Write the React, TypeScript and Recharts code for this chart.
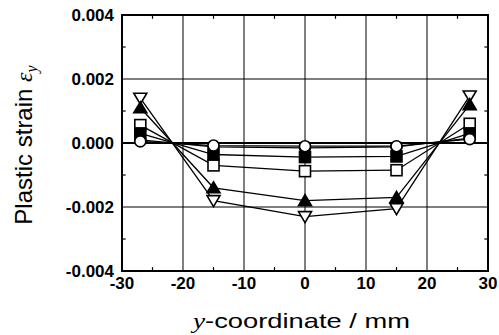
import { LineChart, Line, XAxis, YAxis, CartesianGrid, ReferenceLine, ReferenceArea, Label } from "recharts";

const positions = [-27, -15, 0, 15, 27];
const openCircle = [0.00005, -0.00008, -0.0001, -0.0001, 0.00012];
const filledCircle = [0.0001, -0.00012, -0.00015, -0.00012, 0.00015];
const filledSquare = [0.0003, -0.00036, -0.00044, -0.00042, 0.0003];
const openSquare = [0.00056, -0.0007, -0.00088, -0.00085, 0.0006];
const filledTriangle = [0.0011, -0.0014, -0.0018, -0.0017, 0.0012];
const openTriangle = [0.0014, -0.0018, -0.0023, -0.00205, 0.00147];

const xTicks = [-30, -20, -10, 0, 10, 20, 30];
const yTicks = [-0.004, -0.002, 0, 0.002, 0.004];
const xMinor = [-25, -15, -5, 5, 15, 25];
const yMinor = [-0.003, -0.001, 0.001, 0.003];

const data = positions.map((x, i) => ({
  x,
  oc: openCircle[i],
  fc: filledCircle[i],
  fs: filledSquare[i],
  os: openSquare[i],
  ft: filledTriangle[i],
  ot: openTriangle[i],
}));

type Kind = "oc" | "fc" | "fs" | "os" | "ft" | "ot";

function Mark({ cx, cy, kind }: { cx: number; cy: number; kind: Kind }) {
  const filled = kind === "fc" || kind === "fs" || kind === "ft";
  const fill = filled ? "#000" : "#fff";
  const s = 5.5;
  if (kind === "oc" || kind === "fc")
    return <circle cx={cx} cy={cy} r={5.5} fill={fill} stroke="#000" strokeWidth={1.6} />;
  if (kind === "fs" || kind === "os")
    return <rect x={cx - s} y={cy - s} width={2 * s} height={2 * s} fill={fill} stroke="#000" strokeWidth={1.6} />;
  if (kind === "ft")
    return <polygon points={`${cx},${cy - 6} ${cx - 6.5},${cy + 5} ${cx + 6.5},${cy + 5}`} fill={fill} stroke="#000" strokeWidth={1.6} />;
  return <polygon points={`${cx},${cy + 6} ${cx - 6.5},${cy - 5} ${cx + 6.5},${cy - 5}`} fill={fill} stroke="#000" strokeWidth={1.6} />;
}

const order: Kind[] = ["ot", "ft", "os", "fs", "fc", "oc"];
const font = "'Liberation Sans', Arial, Helvetica, sans-serif";
const serif = "'Liberation Serif', 'Times New Roman', serif";

export default function App() {
  return (
    <div style={{ position: "fixed", left: 0, top: 0, width: 499, height: 335, background: "#fff" }}>
      <LineChart width={499} height={335} data={data} margin={{ top: 15, right: 11, left: 0, bottom: 0 }}>
        <CartesianGrid
          stroke="#000"
          strokeWidth={1}
          verticalValues={[-20, -10, 0, 10, 20]}
          horizontalValues={[-0.002, 0.002]}
        />
        <ReferenceLine y={0} stroke="#000" strokeWidth={2} />
        {yMinor.map((v) => (
          <ReferenceLine key={"yl" + v} segment={[{ x: -30, y: v }, { x: -29.4, y: v }]} stroke="#000" strokeWidth={1.2} />
        ))}
        {yMinor.map((v) => (
          <ReferenceLine key={"yr" + v} segment={[{ x: 29.4, y: v }, { x: 30, y: v }]} stroke="#000" strokeWidth={1.2} />
        ))}
        {xMinor.map((v) => (
          <ReferenceLine key={"xb" + v} segment={[{ x: v, y: -0.004 }, { x: v, y: -0.00388 }]} stroke="#000" strokeWidth={1.2} />
        ))}
        {xMinor.map((v) => (
          <ReferenceLine key={"xt" + v} segment={[{ x: v, y: 0.004 }, { x: v, y: 0.00388 }]} stroke="#000" strokeWidth={1.2} />
        ))}
        <XAxis
          dataKey="x"
          type="number"
          domain={[-30, 30]}
          ticks={xTicks}
          allowDataOverflow
          axisLine={false}
          tickLine={false}
          tickMargin={0}
          height={64}
          tick={{ fill: "#000", fontSize: 17, fontWeight: "bold", fontFamily: font }}
        >
          <Label
            content={() => (
              <text
                x={301.5}
                y={328}
                textAnchor="middle"
                fontSize={21}
                fontFamily={font}
                fill="#000"
                textLength={217}
                lengthAdjust="spacingAndGlyphs"
              >
                <tspan fontStyle="italic" fontFamily={serif}>y</tspan>-coordinate / mm
              </text>
            )}
          />
        </XAxis>
        <YAxis
          type="number"
          domain={[-0.004, 0.004]}
          ticks={yTicks}
          allowDataOverflow
          axisLine={false}
          tickLine={false}
          tickMargin={2}
          width={122}
          tickFormatter={(v: number) => v.toFixed(3)}
          tick={{ fill: "#000", fontSize: 17, fontWeight: "bold", fontFamily: font }}
        >
          <Label
            content={() => (
              <text
                x={32}
                y={145}
                transform="rotate(-90, 32, 145)"
                textAnchor="middle"
                fontSize={24}
                fontFamily={font}
                fill="#000"
              >
                Plastic strain{" "}
                <tspan fontStyle="italic" fontFamily={serif}>ε</tspan>
                <tspan fontStyle="italic" fontFamily={serif} fontSize={16} dy={5}>y</tspan>
              </text>
            )}
          />
        </YAxis>
        {order.map((k) => (
          <Line
            key={k}
            dataKey={k}
            stroke="#000"
            strokeWidth={1.3}
            isAnimationActive={false}
            dot={(p: any) => <Mark key={k + p.index} cx={p.cx} cy={p.cy} kind={k} />}
            activeDot={false}
          />
        ))}
        <ReferenceArea x1={-30} x2={30} y1={-0.004} y2={0.004} fill="none" stroke="#000" strokeWidth={2} ifOverflow="visible" />
      </LineChart>
    </div>
  );
}
